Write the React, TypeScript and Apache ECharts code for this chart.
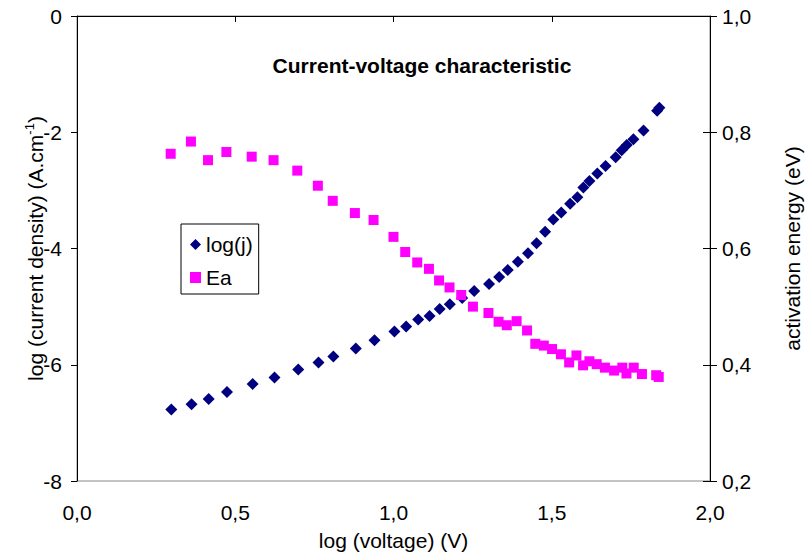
import React, { useEffect, useRef } from "react";
import * as echarts from "echarts";

const logVoltageJ = [0.298, 0.362, 0.416, 0.474, 0.555, 0.624, 0.699, 0.763, 0.81, 0.881, 0.94, 1.003, 1.04, 1.078, 1.114, 1.146, 1.178, 1.217, 1.255, 1.302, 1.334, 1.361, 1.393, 1.425, 1.452, 1.479, 1.505, 1.53, 1.558, 1.581, 1.6, 1.619, 1.644, 1.67, 1.702, 1.721, 1.737, 1.758, 1.79, 1.833, 1.84];
const logJ = [-6.77, -6.68, -6.59, -6.47, -6.33, -6.22, -6.08, -5.96, -5.86, -5.72, -5.58, -5.43, -5.34, -5.22, -5.16, -5.04, -4.96, -4.85, -4.73, -4.61, -4.49, -4.37, -4.23, -4.08, -3.91, -3.71, -3.5, -3.38, -3.23, -3.12, -2.95, -2.84, -2.71, -2.58, -2.43, -2.31, -2.22, -2.12, -1.97, -1.63, -1.58];

const logVoltageEa = [0.296, 0.36, 0.414, 0.472, 0.552, 0.621, 0.696, 0.761, 0.808, 0.878, 0.937, 1.0, 1.037, 1.075, 1.112, 1.144, 1.177, 1.214, 1.251, 1.3, 1.332, 1.358, 1.389, 1.422, 1.448, 1.475, 1.501, 1.529, 1.555, 1.578, 1.599, 1.619, 1.642, 1.668, 1.697, 1.723, 1.736, 1.759, 1.785, 1.83, 1.838];
const activationEnergy = [0.763, 0.784, 0.752, 0.766, 0.758, 0.752, 0.734, 0.708, 0.682, 0.661, 0.649, 0.62, 0.594, 0.576, 0.565, 0.545, 0.533, 0.52, 0.5, 0.489, 0.474, 0.468, 0.475, 0.459, 0.436, 0.433, 0.427, 0.418, 0.404, 0.416, 0.399, 0.406, 0.401, 0.395, 0.39, 0.395, 0.385, 0.395, 0.384, 0.382, 0.379];

const titleText = "Current-voltage characteristic";
const xName = "log (voltage) (V)";
const rightName = "activation energy (eV)";

const FONT = "'Liberation Sans', Arial, sans-serif";
const FS = 21;
const comma = (v: number) => v.toFixed(1).replace(".", ",");

export default function App() {
  const ref = useRef<HTMLDivElement>(null);
  useEffect(() => {
    if (!ref.current) return;
    const chart = echarts.init(ref.current, undefined, { renderer: "svg" });
    chart.setOption({
      animation: false,
      backgroundColor: "#ffffff",
      textStyle: { fontFamily: FONT },
      title: {
        text: titleText,
        left: 417,
        top: 50,
        textAlign: "center",
        textStyle: { fontFamily: FONT, fontSize: 21, fontWeight: "bold", color: "#000" },
      },
      legend: {
        left: 181,
        top: 224,
        orient: "vertical",
        borderColor: "#000",
        borderWidth: 1,
        padding: [10, 6, 6, 9],
        itemGap: 12,
        itemWidth: 11,
        itemHeight: 11,
        textStyle: { fontFamily: FONT, fontSize: FS, color: "#000" },
        data: [
          { name: "log(j)", icon: "diamond" },
          { name: "Ea", icon: "rect" },
        ],
      },
      grid: {
        left: 77,
        right: 99,
        top: 16,
        bottom: 75,
        show: true,
        borderColor: "#888",
        borderWidth: 1,
      },
      xAxis: {
        type: "value",
        min: 0,
        max: 2,
        interval: 0.5,
        name: xName,
        nameLocation: "middle",
        nameGap: 49,
        nameTextStyle: { fontFamily: FONT, fontSize: FS, color: "#000" },
        axisLine: { show: true, lineStyle: { color: "#000", width: 1 } },
        axisTick: { show: true, length: 6, lineStyle: { color: "#000" } },
        axisLabel: { formatter: comma, fontFamily: FONT, fontSize: FS, color: "#000", margin: 21 },
        splitLine: { show: false },
      },
      yAxis: [
        {
          type: "value",
          min: -8,
          max: 0,
          interval: 2,
          position: "left",
          name: "{a|log (current density) (A.cm}{s|-1}{a|)}",
          nameLocation: "middle",
          nameGap: 30,
          nameMoveOverlap: false,
          nameRotate: 90,
          nameTextStyle: {
            rich: {
              a: { fontFamily: FONT, fontSize: FS, color: "#000", lineHeight: 24 },
              s: { fontFamily: FONT, fontSize: 13, color: "#000", verticalAlign: "top", lineHeight: 24, padding: [0, 0, 10, 0] },
            },
          },
          axisLine: { show: true, lineStyle: { color: "#000", width: 1 } },
          axisTick: { show: true, length: 6, lineStyle: { color: "#000" } },
          axisLabel: { formatter: (v: number) => String(v), fontFamily: FONT, fontSize: FS, color: "#000", margin: 15 },
          splitLine: { show: false },
        },
        {
          type: "value",
          min: 0.2,
          max: 1.0,
          interval: 0.2,
          position: "right",
          name: rightName,
          nameLocation: "middle",
          nameGap: 72,
          nameRotate: 90,
          nameTextStyle: { fontFamily: FONT, fontSize: FS, color: "#000" },
          axisLine: { show: true, lineStyle: { color: "#000", width: 1 } },
          axisTick: { show: true, length: 7, lineStyle: { color: "#000" } },
          axisLabel: { formatter: comma, fontFamily: FONT, fontSize: FS, color: "#000", margin: 12 },
          splitLine: { show: false },
        },
        {
          type: "value",
          min: 0.2,
          max: 1.0,
          interval: 0.2,
          position: "right",
          axisLine: { show: false },
          axisTick: { show: true, inside: true, length: 7, lineStyle: { color: "#000" } },
          axisLabel: { show: false },
          splitLine: { show: false },
        },
      ],
      series: [
        {
          name: "log(j)",
          type: "scatter",
          yAxisIndex: 0,
          symbol: "diamond",
          symbolSize: 12,
          itemStyle: { color: "#000080", opacity: 1 },
          data: logVoltageJ.map((x, i) => [x, logJ[i]]),
        },
        {
          name: "Ea",
          type: "scatter",
          yAxisIndex: 1,
          symbol: "rect",
          symbolSize: 10,
          itemStyle: { color: "#FF00FF", opacity: 1 },
          data: logVoltageEa.map((x, i) => [x, activationEnergy[i]]),
        },
      ],
    });
    return () => chart.dispose();
  }, []);
  return (
    <div
      ref={ref}
      style={{ position: "fixed", left: 0, top: 0, width: 811, height: 556, background: "#fff" }}
    />
  );
}
